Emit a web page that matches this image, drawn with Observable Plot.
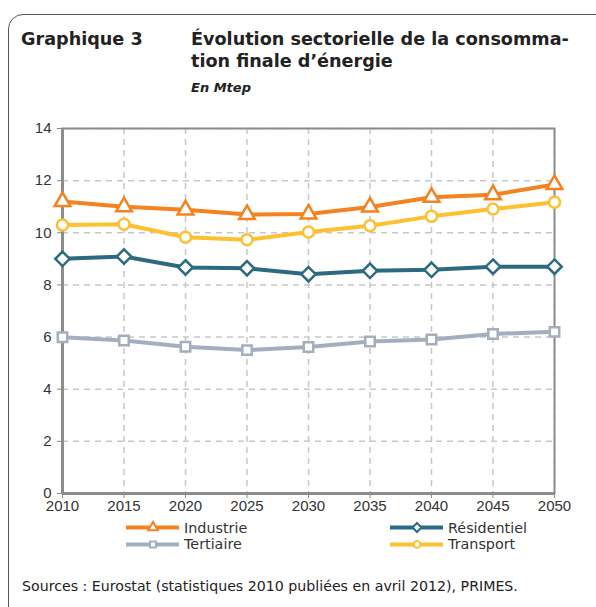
<!DOCTYPE html>
<html><head><meta charset="utf-8">
<script src="https://cdn.jsdelivr.net/npm/d3@7"></script>
<script src="https://cdn.jsdelivr.net/npm/@observablehq/plot@0.6"></script>
<style>
body{margin:0;background:#fff;font-family:"DejaVu Sans",sans-serif;color:#222;}
#wrap{position:relative;width:596px;height:607px;overflow:hidden;}
#box{position:absolute;left:8px;top:14px;width:640px;height:640px;border:1.5px solid #555;border-radius:15px;}
.t{position:absolute;white-space:nowrap;line-height:1;}
.b{font-weight:bold;}
#chart{position:absolute;left:0;top:110px;}
.li{position:absolute;display:flex;align-items:center;height:17px;white-space:nowrap;color:#333;}
</style></head>
<body><div id="wrap">
<div id="box"></div>
<div class="t b" id="g3" style="left:21px;top:31px;font-size:18px;">Graphique 3</div>
<div class="t b" id="l1" style="left:191px;top:31px;font-size:18px;">Évolution sectorielle de la consomma-</div>
<div class="t b" id="l2" style="left:191px;top:53px;font-size:18px;">tion finale d’énergie</div>
<div class="t b" id="l3" style="left:191px;top:81px;font-size:13px;font-style:italic;">En Mtep</div>
<div id="chart"></div>
<div class="t" id="src" style="left:22px;top:579px;font-size:14px;">Sources : Eurostat (statistiques 2010 publiées en avril 2012), PRIMES.</div>
</div>
<script>
const years = [2010,2015,2020,2025,2030,2035,2040,2045,2050];
const industrie   = [11.2,11.0,10.88,10.7,10.72,10.99,11.36,11.46,11.85];
const transport   = [10.3,10.33,9.83,9.73,10.03,10.27,10.63,10.91,11.17];
const residentiel = [9.0,9.09,8.67,8.64,8.41,8.54,8.58,8.7,8.7];
const tertiaire   = [5.99,5.87,5.63,5.5,5.62,5.83,5.91,6.12,6.2];
const yTicks = [0,2,4,6,8,10,12,14];
const names = ["Industrie","Résidentiel","Tertiaire","Transport"];

const series = [
  {name:names[0], values:industrie, color:"#f58220", symbol:"triangle2", r:7.5},
  {name:names[1], values:residentiel, color:"#2b6a80", symbol:"diamond2", r:6.5},
  {name:names[2], values:tertiaire, color:"#a3afbe", symbol:"square2", r:6},
  {name:names[3], values:transport, color:"#fdc030", symbol:"circle", r:5.5}
];
const data = series.flatMap(s => years.map((y,i)=>({year:y, value:s.values[i], name:s.name})));

const marks = [
  Plot.gridX(years,{stroke:"#c8c8c8",strokeOpacity:1,strokeWidth:1.5,strokeDasharray:"6,5"}),
  Plot.gridY(yTicks,{stroke:"#c8c8c8",strokeOpacity:1,strokeWidth:1.5,strokeDasharray:"6,5"}),
  Plot.axisY(yTicks,{tickSize:5,tickPadding:6,fontSize:15,stroke:"#888",fill:"#333",label:null}),
  Plot.axisX(years,{tickSize:5,tickPadding:2,fontSize:15,tickFormat:d=>String(d),stroke:"#888",fill:"#333",label:null}),
  Plot.frame({stroke:"#8c8c8c",strokeWidth:2}),
  Plot.ruleX([2010],{stroke:"#8c8c8c",strokeWidth:3}),
  Plot.ruleY([0],{stroke:"#8c8c8c",strokeWidth:3})
];
for (const s of [series[2],series[1],series[3],series[0]]) {
  const d = data.filter(e=>e.name===s.name);
  marks.push(Plot.line(d,{x:"year",y:"value",stroke:s.color,strokeWidth:4}));
  marks.push(Plot.dot(d,{x:"year",y:"value",stroke:s.color,fill:"white",strokeWidth:2.5,symbol:s.symbol,r:s.r}));
}
const chart = Plot.plot({
  width:596, height:410,
  marginLeft:62, marginRight:42, marginTop:18, marginBottom:27,
  style:{fontFamily:"'Liberation Sans', Arial, sans-serif", background:"transparent"},
  x:{domain:[2010,2050], axis:null},
  y:{domain:[0,14], axis:null},
  marks
});
document.getElementById("chart").appendChild(chart);

// legend
const pos = [[125,519],[389,519],[125,535.5],[389,535.5]];
const sym = {triangle2:d3.symbolTriangle2, diamond2:d3.symbolDiamond2, square2:d3.symbolSquare2, circle:d3.symbolCircle};
names.forEach((n,i)=>{
  const s = series.find(e=>e.name===n);
  const el = document.createElement("div");
  el.className="li"; el.style.left=pos[i][0]+"px"; el.style.top=pos[i][1]+"px";
  const path = d3.symbol(sym[s.symbol], Math.PI*Math.pow(s.r*0.62,2))();
  el.innerHTML = `<svg width="56" height="17" style="display:block"><line x1="1" x2="54" y1="8.5" y2="8.5" stroke="${s.color}" stroke-width="4"/><path transform="translate(28,8.5)" d="${path}" fill="white" stroke="${s.color}" stroke-width="2"/></svg><span class="lt" style="margin-left:3px;font-size:15px">${n}</span>`;
  document.getElementById("wrap").appendChild(el);
});

// fit text widths to reference measurements
function fit(el, target){
  const w = el.getBoundingClientRect().width;
  const fs = parseFloat(getComputedStyle(el).fontSize);
  el.style.fontSize = (fs*target/w).toFixed(2)+"px";
}
fit(document.getElementById("l1"),378);
document.getElementById("l2").style.fontSize = document.getElementById("l1").style.fontSize;
document.getElementById("g3").style.fontSize = document.getElementById("l1").style.fontSize;
fit(document.getElementById("src"),496);
const lts = document.querySelectorAll(".lt");
fit(lts[1],79);
for (let i=0;i<lts.length;i++) lts[i].style.fontSize = lts[1].style.fontSize;
</script>
</body></html>
